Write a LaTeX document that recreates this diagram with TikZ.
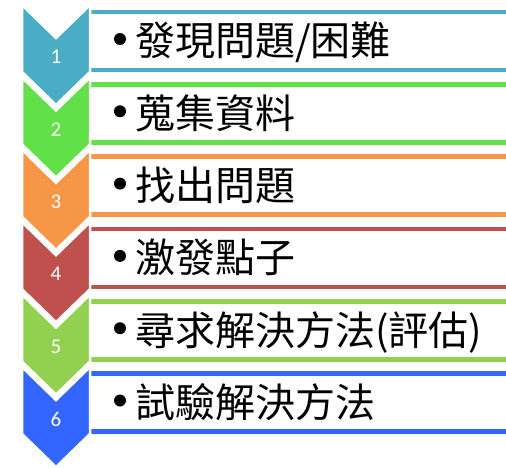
\documentclass[tikz,border=0pt]{standalone}
\usepackage{fontspec}
\newfontfamily\cjk{Noto Sans CJK TC}
\newfontfamily\numfont{Carlito}
\definecolor{c1}{HTML}{4BACC6}
\definecolor{c2}{HTML}{62E04A}
\definecolor{c3}{HTML}{F79646}
\definecolor{c4}{HTML}{C0504D}
\definecolor{c5}{HTML}{92D050}
\definecolor{c6}{HTML}{3366FF}
\begin{document}
\begin{tikzpicture}[x=1pt,y=-1pt,
  itemtext/.style={anchor=base west, inner sep=0pt, font=\cjk\fontsize{40}{40}\selectfont},
  bulletdot/.style={circle, fill=black, inner sep=0pt, minimum size=12pt},
  numtext/.style={text=white, font=\numfont\fontsize{21}{21}\selectfont}]
\useasboundingbox (0,0) rectangle (506,468);
\clip (0,0) rectangle (506,468);
% boxes
\foreach \i/\col in {0/c1,1/c2,2/c3,3/c4,4/c5,5/c6}{
  \pgfmathsetmacro\yc{41+72.3*\i}
  \draw[draw=\col, line width=4.8pt, fill=white] (88,{\yc-29}) rectangle (520,{\yc+29});
}
% chevrons
\foreach \i/\col in {0/c1,1/c2,2/c3,3/c4,4/c5,5/c6}{
  \pgfmathsetmacro\yt{5+72.4*\i}
  \filldraw[fill=\col, draw=white, line width=2.5pt, line join=miter]
    (22,\yt) -- (56,{\yt+33}) -- (90,\yt) -- (90,{\yt+67}) -- (56,{\yt+100}) -- (22,{\yt+67}) -- cycle;
}
% numbers
\node[numtext] (n1) at (56,57) {1};
\node[numtext] (n2) at (56,129.4) {2};
\node[numtext] (n3) at (56,201.8) {3};
\node[numtext] (n4) at (56,274.2) {4};
\node[numtext] (n5) at (56,346.6) {5};
\node[numtext] (n6) at (56,419) {6};
% bullets
\node[bulletdot] (b1) at (120,39) {};
\node[bulletdot] (b2) at (120,111.3) {};
\node[bulletdot] (b3) at (120,183.6) {};
\node[bulletdot] (b4) at (120,255.9) {};
\node[bulletdot] (b5) at (120,328.2) {};
\node[bulletdot] (b6) at (120,400.5) {};
% texts
\node[itemtext] (t1) at (135,56) {發現問題/困難};
\node[itemtext] (t2) at (135,128.3) {蒐集資料};
\node[itemtext] (t3) at (135,200.6) {找出問題};
\node[itemtext] (t4) at (135,272.9) {激發點子};
\node[itemtext] (t5) at (135,345.2) {尋求解決方法(評估)};
\node[itemtext] (t6) at (135,417.5) {試驗解決方法};
\end{tikzpicture}
\end{document}
